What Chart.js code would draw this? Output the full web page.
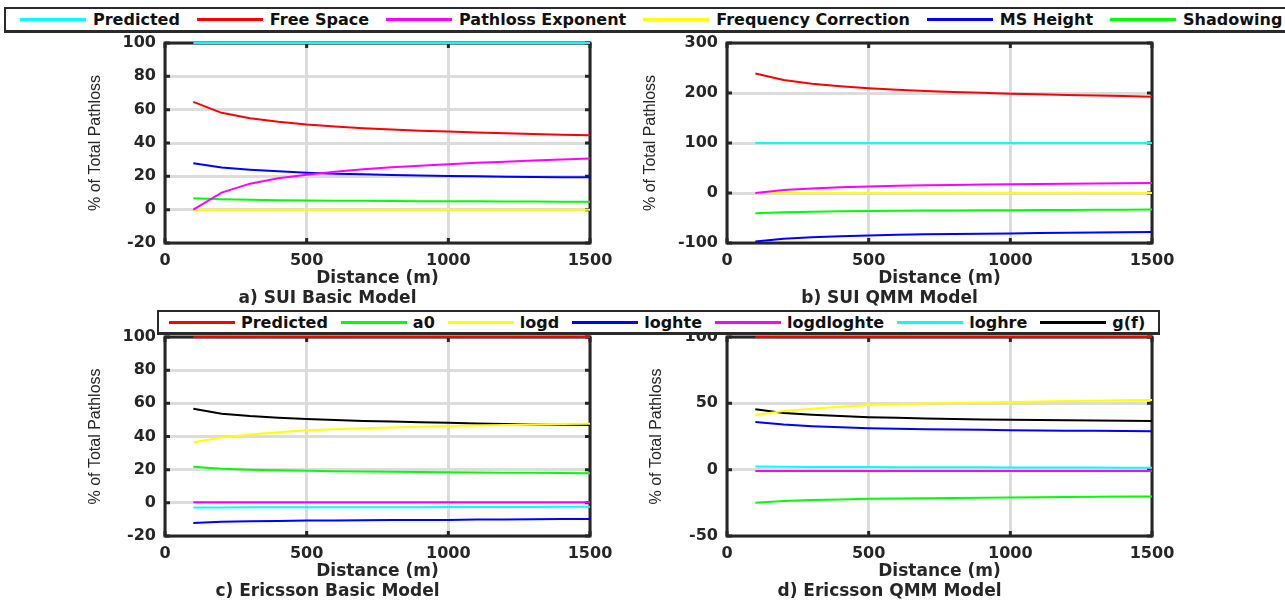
<!DOCTYPE html>
<html>
<head>
<meta charset="utf-8">
<script src="https://cdn.jsdelivr.net/npm/chart.js@4"></script>
<style>
  body { margin: 0; width: 1285px; height: 603px; overflow: hidden; background: #fff; position: relative; }
  .box { position: absolute; }
  .legend { position: absolute; display: flex; align-items: center; background: #fff; z-index: 5;
            border: 2px solid #2a2a2a; border-bottom-width: 3px; box-sizing: border-box;
            font: bold 16px "DejaVu Sans", sans-serif; color: #111; white-space: nowrap; }
  .legend .sw { width: 66px; height: 3px; margin-right: 6px; }
  .legend .lab { margin-right: 13px; }
  #legendTop .sw { margin-right: 7px; }
  #legendTop .lab { margin-right: 17px; }
</style>
</head>
<body>
<div class="legend" id="legendTop" style="left:4px; top:7px; width:1300px; height:26px; padding-left:14px;"></div>
<div class="legend" id="legendBottom" style="left:157px; top:310px; height:25px; padding-left:10px;"></div>
<div class="box" style="left:65px; top:31px; width:551px; height:282px;"><canvas id="chartA"></canvas></div>
<div class="box" style="left:627px; top:31px; width:551px; height:282px;"><canvas id="chartB"></canvas></div>
<div class="box" style="left:65px; top:325px; width:551px; height:281px;"><canvas id="chartC"></canvas></div>
<div class="box" style="left:627px; top:325px; width:551px; height:281px;"><canvas id="chartD"></canvas></div>
<script>
// Distance points (m)
const distance = [100, 200, 300, 400, 500, 600, 700, 800, 900, 1000, 1100, 1200, 1300, 1400, 1500];

// SUI series names / colours
const suiNames = ['Predicted', 'Free Space', 'Pathloss Exponent', 'Frequency Correction', 'MS Height', 'Shadowing'];
const suiColors = ['#00ffff', '#ff0000', '#ff00ff', '#ffff00', '#0000ff', '#00ff00'];

// a) SUI Basic Model
const suiBasicPredicted = [100, 100, 100, 100, 100, 100, 100, 100, 100, 100, 100, 100, 100, 100, 100];
const suiBasicFreeSpace = [64.7, 58.1, 54.9, 52.7, 51.1, 49.9, 48.9, 48.1, 47.4, 46.9, 46.3, 45.8, 45.4, 45.0, 44.7];
const suiBasicExponent = [0, 10.2, 15.6, 18.8, 21.0, 22.8, 24.2, 25.4, 26.4, 27.3, 28.1, 28.8, 29.5, 30.1, 30.7];
const suiBasicFreq = [0, 0, 0, 0, 0, 0, 0, 0, 0, 0, 0, 0, 0, 0, 0];
const suiBasicMsHeight = [27.9, 25.3, 24.0, 23.0, 22.2, 21.6, 21.2, 20.8, 20.5, 20.2, 20.0, 19.8, 19.6, 19.5, 19.4];
const suiBasicShadowing = [6.8, 6.3, 6.0, 5.7, 5.5, 5.4, 5.3, 5.2, 5.1, 5.0, 5.0, 4.9, 4.9, 4.8, 4.8];

// b) SUI QMM Model
const suiQmmPredicted = [100, 100, 100, 100, 100, 100, 100, 100, 100, 100, 100, 100, 100, 100, 100];
const suiQmmFreeSpace = [239, 226, 218.5, 213.3, 209.3, 206.3, 204, 202, 200.3, 198.7, 197.4, 196.1, 195, 193.8, 192.7];
const suiQmmExponent = [0, 6.0, 9.0, 11.3, 13.2, 14.5, 15.4, 16.2, 16.8, 17.4, 18.0, 18.6, 19.0, 19.5, 19.9];
const suiQmmFreq = [0, 0, 0, 0, 0, 0, 0, 0, 0, 0, 0, 0, 0, 0, 0];
const suiQmmMsHeight = [-97, -91.5, -88.7, -86.5, -84.8, -83.6, -82.7, -81.9, -81.3, -80.8, -80.2, -79.6, -79.1, -78.6, -78.1];
const suiQmmShadowing = [-40.4, -38.6, -37.5, -36.6, -35.8, -35.4, -35.1, -34.9, -34.6, -34.4, -34.1, -33.8, -33.6, -33.3, -33.1];

// Ericsson series names / colours
const ericNames = ['Predicted', 'a0', 'logd', 'loghte', 'logdloghte', 'loghre', 'g(f)'];
const ericColors = ['#ff0000', '#00ff00', '#ffff00', '#0000ff', '#ff00ff', '#00ffff', '#000000'];

// c) Ericsson Basic Model
const ericBasicPredicted = [100, 100, 100, 100, 100, 100, 100, 100, 100, 100, 100, 100, 100, 100, 100];
const ericBasicA0 = [21.7, 20.6, 20.0, 19.6, 19.3, 19.1, 18.9, 18.7, 18.6, 18.5, 18.3, 18.2, 18.1, 18.0, 17.9];
const ericBasicLogd = [36.6, 39.4, 41.2, 42.6, 43.7, 44.4, 45.0, 45.5, 45.9, 46.3, 46.6, 46.9, 47.2, 47.5, 47.7];
const ericBasicLoghte = [-12.1, -11.4, -11.1, -10.9, -10.7, -10.6, -10.5, -10.4, -10.3, -10.3, -10.1, -10.0, -9.9, -9.8, -9.7];
const ericBasicLogdLoghte = [0.3, 0.3, 0.3, 0.3, 0.3, 0.3, 0.3, 0.3, 0.3, 0.3, 0.3, 0.3, 0.3, 0.3, 0.3];
const ericBasicLoghre = [-2.8, -2.8, -2.7, -2.7, -2.7, -2.6, -2.6, -2.6, -2.6, -2.5, -2.5, -2.5, -2.5, -2.4, -2.4];
const ericBasicGf = [56.7, 53.7, 52.3, 51.3, 50.5, 49.9, 49.4, 49.0, 48.6, 48.3, 47.9, 47.6, 47.3, 47.1, 46.9];

// d) Ericsson QMM Model
const ericQmmPredicted = [100, 100, 100, 100, 100, 100, 100, 100, 100, 100, 100, 100, 100, 100, 100];
const ericQmmA0 = [-25.0, -23.7, -22.9, -22.4, -22.0, -21.7, -21.5, -21.3, -21.1, -21.0, -20.8, -20.6, -20.5, -20.3, -20.2];
const ericQmmLogd = [41.2, 44.2, 45.9, 47.5, 48.7, 49.3, 49.8, 50.3, 50.7, 51.0, 51.3, 51.7, 52.0, 52.3, 52.5];
const ericQmmLoghte = [35.9, 34.0, 32.8, 32.0, 31.3, 30.9, 30.5, 30.2, 30.0, 29.8, 29.6, 29.4, 29.3, 29.1, 29.0];
const ericQmmLogdLoghte = [-1, -1, -1, -1, -1, -1, -1, -1, -1, -1, -1, -1, -1, -1, -1];
const ericQmmLoghre = [2.3, 2.2, 2.1, 2.0, 2.0, 1.9, 1.9, 1.8, 1.8, 1.7, 1.7, 1.6, 1.6, 1.5, 1.5];
const ericQmmGf = [45.5, 42.8, 41.4, 40.4, 39.6, 39.1, 38.6, 38.2, 37.9, 37.6, 37.4, 37.2, 37.0, 36.8, 36.6];

const INK = '#262626';

// HTML legends
function buildLegend(id, names, colors) {
  const el = document.getElementById(id);
  names.forEach((n, i) => {
    const sw = document.createElement('span');
    sw.className = 'sw';
    sw.style.background = colors[i];
    const lab = document.createElement('span');
    lab.className = 'lab';
    lab.textContent = n;
    el.appendChild(sw);
    el.appendChild(lab);
  });
}
buildLegend('legendTop', suiNames, suiColors);
buildLegend('legendBottom', ericNames, ericColors);

// axes box with inward ticks, drawn under the lines
const boxPlugin = {
  id: 'axesBox',
  beforeDatasetsDraw(chart) {
    const { ctx, chartArea: a, scales: { x, y } } = chart;
    ctx.save();
    ctx.strokeStyle = INK;
    ctx.lineWidth = 3;
    ctx.beginPath();
    x.ticks.forEach(t => {
      const px = x.getPixelForValue(t.value);
      ctx.moveTo(px, a.top); ctx.lineTo(px, a.top + 5);
      ctx.moveTo(px, a.bottom); ctx.lineTo(px, a.bottom - 5);
    });
    y.ticks.forEach(t => {
      const py = y.getPixelForValue(t.value);
      ctx.moveTo(a.left, py); ctx.lineTo(a.left + 5, py);
      ctx.moveTo(a.right, py); ctx.lineTo(a.right - 5, py);
    });
    ctx.stroke();
    ctx.strokeRect(a.left, a.top, a.right - a.left, a.bottom - a.top);
    ctx.restore();
  }
};

// drop the label-overflow padding so the plot area is exactly where we want it
function noPad(s) {
  s.paddingLeft = 0; s.paddingRight = 0; s.paddingTop = 0; s.paddingBottom = 0;
}

function makeChart(id, title, names, colors, series, yMin, yMax, yStep, yTitleOff) {
  const datasets = series.map((s, i) => ({
    label: names[i],
    data: distance.map((d, j) => ({ x: d, y: s[j] })),
    borderColor: colors[i],
    borderWidth: 2,
    pointRadius: 0,
    fill: false,
    clip: 5
  }));
  return new Chart(document.getElementById(id), {
    type: 'line',
    data: { datasets },
    plugins: [boxPlugin],
    options: {
      responsive: true,
      maintainAspectRatio: false,
      animation: false,
      layout: { padding: { top: 12, right: 26, left: 0, bottom: 0 } },
      plugins: {
        legend: { display: false },
        tooltip: { enabled: false },
        title: {
          display: true, text: title, position: 'bottom', color: INK,
          font: { family: 'DejaVu Sans', weight: 'bold', size: 17, lineHeight: 1.2 },
          padding: { top: 0, bottom: 4 }
        }
      },
      scales: {
        x: {
          type: 'linear', min: 0, max: 1500,
          afterFit(s) { s.height = 45.6; noPad(s); },
          grid: { color: '#dcdcdc', lineWidth: 3, drawTicks: false },
          border: { display: false },
          ticks: { stepSize: 500, padding: 8, color: INK, maxRotation: 0,
                   font: { family: 'DejaVu Sans', weight: 'bold', size: 16 },
                   callback: v => String(v) },
          title: { display: true, text: 'Distance (m)', color: INK,
                   font: { family: 'DejaVu Sans', weight: 'bold', size: 17, lineHeight: 1.2 },
                   padding: { top: 0, bottom: 0 } }
        },
        y: {
          min: yMin, max: yMax,
          afterFit(s) { s.width = 100; noPad(s); },
          grid: { color: '#dcdcdc', lineWidth: 3, drawTicks: false },
          border: { display: false },
          ticks: { stepSize: yStep, padding: 9, color: INK,
                   font: { family: 'DejaVu Sans', weight: 'bold', size: 16 },
                   callback: v => String(v) },
          title: { display: true, text: '% of Total Pathloss', color: INK,
                   font: { family: '"Liberation Sans Narrow", "Liberation Sans", sans-serif', size: 16, lineHeight: 1.2 },
                   padding: { top: yTitleOff, bottom: 0 } }
        }
      }
    }
  });
}

makeChart('chartA', 'a) SUI Basic Model', suiNames, suiColors,
  [suiBasicPredicted, suiBasicFreeSpace, suiBasicExponent, suiBasicFreq, suiBasicMsHeight, suiBasicShadowing],
  -20, 100, 20, 21.4);
makeChart('chartB', 'b) SUI QMM Model', suiNames, suiColors,
  [suiQmmPredicted, suiQmmFreeSpace, suiQmmExponent, suiQmmFreq, suiQmmMsHeight, suiQmmShadowing],
  -100, 300, 100, 14.4);
makeChart('chartC', 'c) Ericsson Basic Model', ericNames, ericColors,
  [ericBasicPredicted, ericBasicA0, ericBasicLogd, ericBasicLoghte, ericBasicLogdLoghte, ericBasicLoghre, ericBasicGf],
  -20, 100, 20, 21.4);
makeChart('chartD', 'd) Ericsson QMM Model', ericNames, ericColors,
  [ericQmmPredicted, ericQmmA0, ericQmmLogd, ericQmmLoghte, ericQmmLogdLoghte, ericQmmLoghre, ericQmmGf],
  -50, 100, 50, 20.4);
</script>
</body>
</html>
